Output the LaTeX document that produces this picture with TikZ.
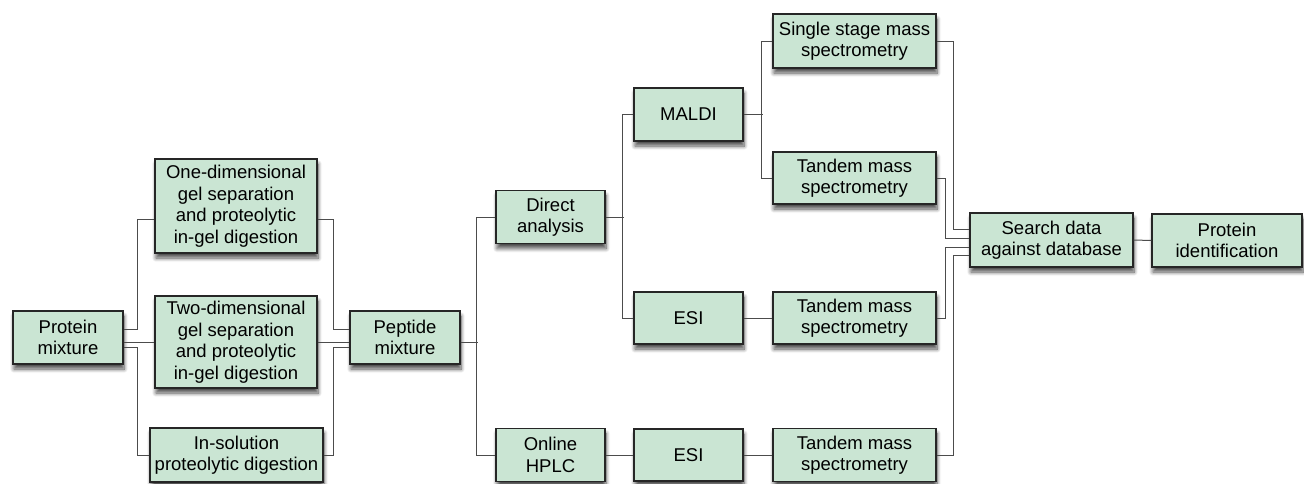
\documentclass[tikz,border=0pt]{standalone}
\usepackage{fontspec}
\setmainfont{Liberation Sans}
\usetikzlibrary{shadows.blur}
\definecolor{boxgreen}{RGB}{202,229,211}

\begin{document}
\begin{tikzpicture}[x=1pt,y=-1pt,
  box/.style={draw=black!85, line width=1.4pt, fill=boxgreen, align=center, inner sep=0pt,
    font=\fontsize{18.5}{21.5}\selectfont,
    blur shadow={shadow xshift=1pt, shadow yshift=-5pt, shadow blur steps=8, shadow blur radius=4pt, shadow opacity=70}},
  link/.style={draw=black!70, line width=1pt}]
  \useasboundingbox (0,0) rectangle (1304,483);

  \node[box, minimum width=110pt, minimum height=53pt] (pm) at (68,337.5) {Protein\\mixture};
  \node[box, minimum width=162pt, minimum height=94pt] (gel1) at (236,206) {One-dimensional\\gel separation\\and proteolytic\\in-gel digestion};
  \node[box, minimum width=162pt, minimum height=92pt] (gel2) at (236,342) {Two-dimensional\\gel separation\\and proteolytic\\in-gel digestion};
  \node[box, minimum width=173pt, minimum height=54pt] (sol) at (236.5,455) {In-solution\\proteolytic digestion};
  \node[box, minimum width=110pt, minimum height=53pt] (pep) at (405,337.5) {Peptide\\mixture};
  \node[box, minimum width=109pt, minimum height=53pt] (da) at (550.5,217) {Direct\\analysis};
  \node[box, minimum width=109pt, minimum height=53pt] (hplc) at (550.5,455) {Online\\HPLC};
  \node[box, minimum width=109pt, minimum height=53pt] (maldi) at (688.5,114.5) {MALDI};
  \node[box, minimum width=109pt, minimum height=52pt] (esi1) at (688.5,318) {ESI};
  \node[box, minimum width=109pt, minimum height=52pt] (esi2) at (688.5,455) {ESI};
  \node[box, minimum width=163pt, minimum height=54pt] (ms1) at (854.5,41) {Single stage mass\\spectrometry};
  \node[box, minimum width=163pt, minimum height=52pt] (tms1) at (854.5,178) {Tandem mass\\spectrometry};
  \node[box, minimum width=163pt, minimum height=52pt] (tms2) at (854.5,318) {Tandem mass\\spectrometry};
  \node[box, minimum width=163pt, minimum height=53pt] (tms3) at (854.5,455) {Tandem mass\\spectrometry};
  \node[box, minimum width=163pt, minimum height=54pt] (srch) at (1051.5,240) {Search data\\against database};
  \node[box, minimum width=150pt, minimum height=53pt] (pid) at (1227,240.5) {Protein\\identification};

  \draw[link] ([yshift=8.5pt]pm.east) -- ++(14,0) |- ([yshift=-13pt]gel1.west);
  \draw[link] ([yshift=-9.5pt]pm.east) -- ++(14,0) |- (sol.west);
  \draw[link] ([yshift=-13pt]gel1.east) -- ++(16,0) |- ([yshift=8.5pt]pep.west);
  \draw[link] (sol.east) -- ++(10,0) |- ([yshift=-9.5pt]pep.west);
  \draw[link] ([yshift=-4.5pt]pep.east) -- ++(17,0);
  \draw[link] (da.west) -- ++(-19,0) |- (hplc.west);
  \draw[link] (da.east) -- ++(18,0);
  \draw[link] (maldi.west) -- ++(-11,0) |- (esi1.west);
  \draw[link] (maldi.east) -- ++(19,0);
  \draw[link] (ms1.west) -- ++(-11,0) |- (tms1.west);
  \draw[link] (ms1.east) -- ++(17,0) |- ([yshift=11pt]srch.west);
  \draw[link] (tms1.east) -- ++(9,0) |- ([yshift=2pt]srch.west);
  \draw[link] (tms2.east) -- ++(9,0) |- ([yshift=-7pt]srch.west);
  \draw[link] (tms3.east) -- ++(17,0) |- ([yshift=-15pt]srch.west);
  \path[link]
  ([yshift=-4.5pt]pm.east) edge (gel2.west)
  (gel2.east) edge ([yshift=-4.5pt]pep.west)
  (esi1.east) edge (tms2.west)
  (hplc.east) edge (esi2.west)
  (esi2.east) edge (tms3.west)
  (srch.east) edge (pid.west)
  ;
\end{tikzpicture}
\end{document}
